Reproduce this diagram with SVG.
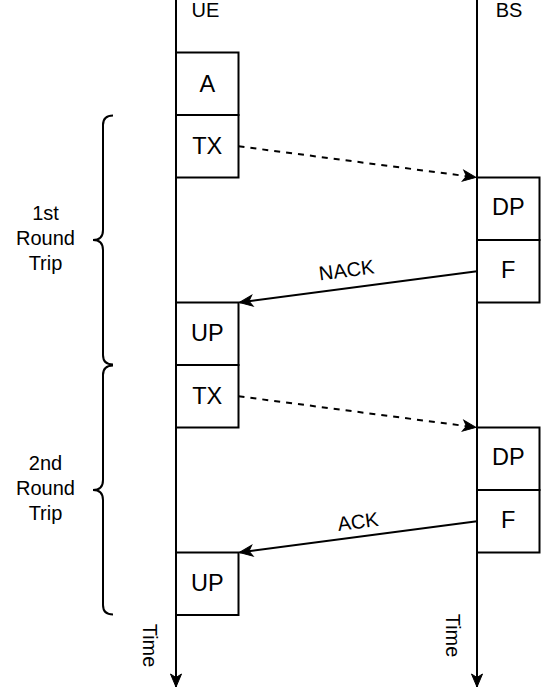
<svg xmlns="http://www.w3.org/2000/svg" width="549" height="689" viewBox="0 0 549 689">
<style>
.box{fill:#fff;stroke:#000;stroke-width:2}
.bt{font-family:"Liberation Sans",Arial,sans-serif;font-size:23.5px;text-anchor:middle;fill:#000}
.lt{font-family:"Liberation Sans",Arial,sans-serif;font-size:20px;text-anchor:middle;fill:#000}
.ll{stroke:#000;stroke-width:2;fill:none}
.da{stroke:#000;stroke-width:2;fill:none;stroke-dasharray:6 6}
.br{stroke:#000;stroke-width:2;fill:none}
</style>
<defs>
<marker id="ah" markerUnits="userSpaceOnUse" markerWidth="14" markerHeight="12" refX="13" refY="5.5" orient="auto" overflow="visible">
<path d="M13,5.5 L0,0 L3.5,5.5 L0,11 Z" fill="#000" stroke="#000" stroke-width="1"/>
</marker>
</defs>
<g id="connectors">
<line id="lifeline-ue" class="ll" x1="176" y1="0" x2="176" y2="687" marker-end="url(#ah)"/>
<line id="lifeline-bs" class="ll" x1="477" y1="0" x2="477" y2="687" marker-end="url(#ah)"/>
<line class="da" x1="238.5" y1="146.25" x2="476" y2="177.4" marker-end="url(#ah)"/>
<line class="da" x1="238.5" y1="396.25" x2="476" y2="427.4" marker-end="url(#ah)"/>
<line class="ll" x1="477" y1="271.25" x2="239.5" y2="302.4" marker-end="url(#ah)"/>
<line class="ll" x1="477" y1="521.25" x2="239.5" y2="552.4" marker-end="url(#ah)"/>
<text class="lt" transform="translate(346.5,270) rotate(-7.46)" y="7">NACK</text>
<text class="lt" transform="translate(358,521.5) rotate(-7.46)" y="7">ACK</text>
</g>
<g id="label-ue"><text class="lt" x="205.5" y="17">UE</text></g>
<g id="label-bs"><text class="lt" x="509" y="17">BS</text></g>
<g id="time-ue"><text class="lt" transform="translate(142.5,645.5) rotate(90)">Time</text></g>
<g id="time-bs"><text class="lt" transform="translate(445.5,635.5) rotate(90)">Time</text></g>
<g id="box-a"><rect class="box" x="176" y="52.5" width="62.5" height="62.5"/><text class="bt" x="207.25" y="91.5">A</text></g>
<g id="box-tx1"><rect class="box" x="176" y="115" width="62.5" height="62.5"/><text class="bt" x="207.25" y="154">TX</text></g>
<g id="box-dp1"><rect class="box" x="477" y="177.5" width="62.5" height="62.5"/><text class="bt" x="508.25" y="214.5">DP</text></g>
<g id="box-f1"><rect class="box" x="477" y="240" width="62.5" height="62.5"/><text class="bt" x="508.25" y="278">F</text></g>
<g id="box-up1"><rect class="box" x="176" y="302.5" width="62.5" height="62.5"/><text class="bt" x="207.25" y="341">UP</text></g>
<g id="box-tx2"><rect class="box" x="176" y="365" width="62.5" height="62.5"/><text class="bt" x="207.25" y="404">TX</text></g>
<g id="box-dp2"><rect class="box" x="477" y="427.5" width="62.5" height="62.5"/><text class="bt" x="508.25" y="464.5">DP</text></g>
<g id="box-f2"><rect class="box" x="477" y="490" width="62.5" height="62.5"/><text class="bt" x="508.25" y="528">F</text></g>
<g id="box-up2"><rect class="box" x="176" y="552.5" width="62.5" height="62.5"/><text class="bt" x="207.25" y="591">UP</text></g>
<g id="brace-1">
<path class="br" d="M113,115.5 Q103,115.5 103,125 L103,230 Q103,240 93,240 Q103,240 103,250 L103,355 Q103,364.5 113,364.5"/>
<text class="lt" x="45.5" y="220">1st</text>
<text class="lt" x="45.5" y="245">Round</text>
<text class="lt" x="45.5" y="270">Trip</text>
</g>
<g id="brace-2">
<path class="br" d="M113,365.5 Q103,365.5 103,375 L103,480 Q103,490 93,490 Q103,490 103,500 L103,605 Q103,614.5 113,614.5"/>
<text class="lt" x="45.5" y="470">2nd</text>
<text class="lt" x="45.5" y="495">Round</text>
<text class="lt" x="45.5" y="520">Trip</text>
</g>
</svg>
